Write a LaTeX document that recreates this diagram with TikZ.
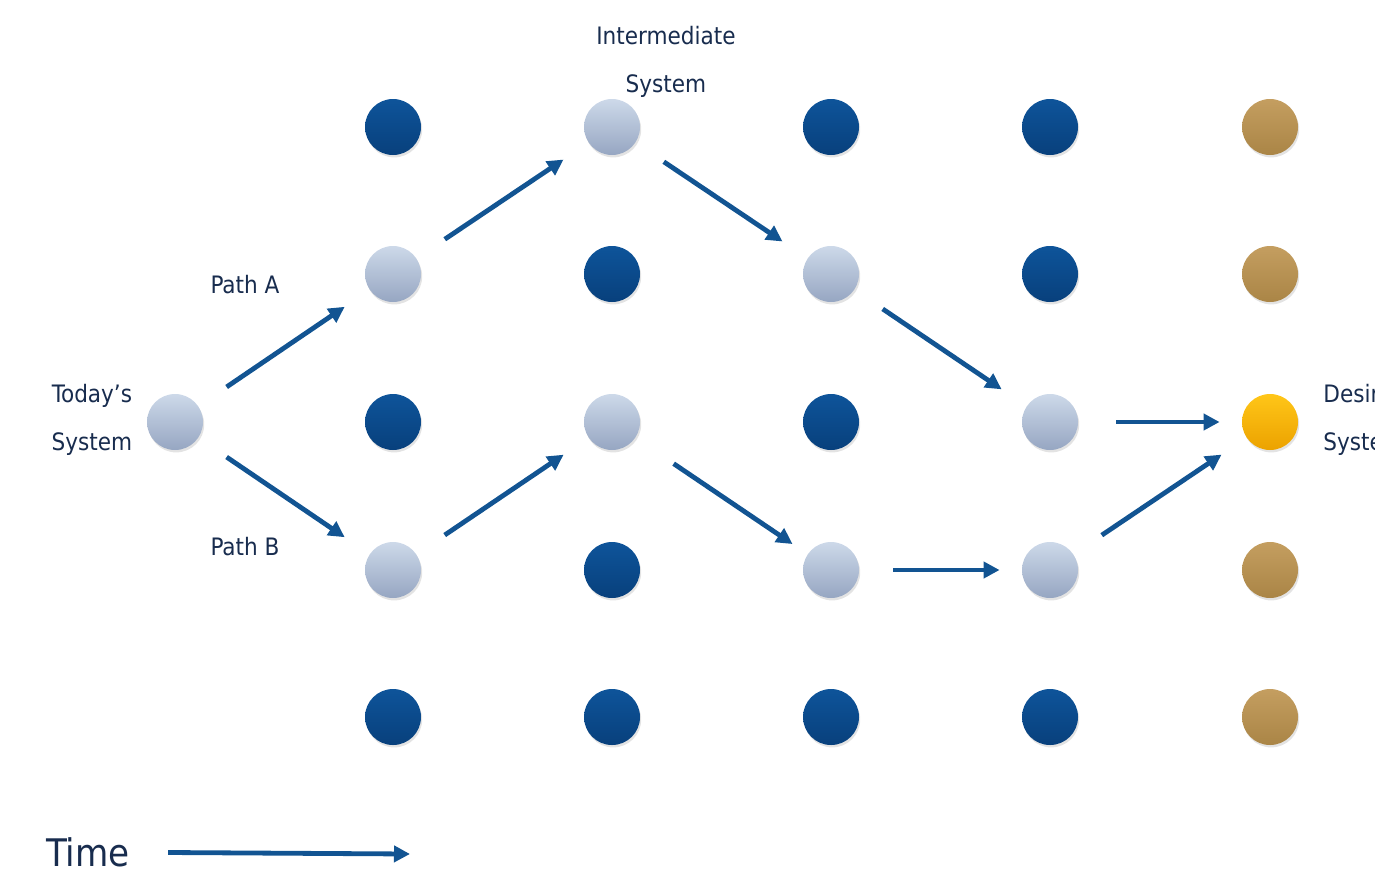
\documentclass[tikz,border=0pt]{standalone}
\usepackage{fontspec}
\setmainfont{DejaVu Sans Condensed}
\usetikzlibrary{arrows.meta,shadows}
\definecolor{textnavy}{RGB}{24,44,78}
\definecolor{arrowblue}{RGB}{18,84,146}
\definecolor{darktop}{RGB}{14,84,154}
\definecolor{darkbot}{RGB}{8,64,124}
\definecolor{lighttop}{RGB}{205,217,233}
\definecolor{lightbot}{RGB}{150,166,194}
\definecolor{browntop}{RGB}{196,158,96}
\definecolor{brownbot}{RGB}{170,133,70}
\definecolor{goldtop}{RGB}{255,198,24}
\definecolor{goldbot}{RGB}{236,162,0}
\begin{document}
\begin{tikzpicture}[x=0.5pt,y=-0.5pt]
\tikzstyle{dot}=[circle,inner sep=0,minimum size=28pt,drop shadow={opacity=0.22,shadow xshift=0.6pt,shadow yshift=-1.2pt}]
\tikzstyle{label}=[text=textnavy,font=\fontsize{12}{24}\selectfont,inner sep=0]
\tikzset{
	dark dot/.style={dot,top color=darktop,bottom color=darkbot},
	light dot/.style={dot,top color=lighttop,bottom color=lightbot},
	brown dot/.style={dot,top color=browntop,bottom color=brownbot},
	gold dot/.style={dot,top color=goldtop,bottom color=goldbot},
	flow/.style={draw=arrowblue,line width=2.4pt,-{Triangle[length=8pt,width=8pt]},shorten <=17pt,shorten >=15pt}
}
\useasboundingbox (0,0) rectangle (1375,873);
\clip (0,0) rectangle (1375,873);
% start
\node[light dot] (today) at (175,422) {};
% column 1
\node[dark dot] (a1) at (393,127) {};
\node[light dot] (a2) at (393,274) {};
\node[dark dot] (a3) at (393,422) {};
\node[light dot] (a4) at (393,570) {};
\node[dark dot] (a5) at (393,717) {};
% column 2
\node[light dot] (b1) at (612,127) {};
\node[dark dot] (b2) at (612,274) {};
\node[light dot] (b3) at (612,422) {};
\node[dark dot] (b4) at (612,570) {};
\node[dark dot] (b5) at (612,717) {};
% column 3
\node[dark dot] (c1) at (831,127) {};
\node[light dot] (c2) at (831,274) {};
\node[dark dot] (c3) at (831,422) {};
\node[light dot] (c4) at (831,570) {};
\node[dark dot] (c5) at (831,717) {};
% column 4
\node[dark dot] (d1) at (1050,127) {};
\node[dark dot] (d2) at (1050,274) {};
\node[light dot] (d3) at (1050,422) {};
\node[light dot] (d4) at (1050,570) {};
\node[dark dot] (d5) at (1050,717) {};
% goal column
\node[brown dot] (e1) at (1270,127) {};
\node[brown dot] (e2) at (1270,274) {};
\node[gold dot] (desired) at (1270,422) {};
\node[brown dot] (e4) at (1270,570) {};
\node[brown dot] (e5) at (1270,717) {};
% labels
\node[label,align=center] (todaytext) at (92,420) {Today’s\\System};
\node[label,align=center] (midtext) at (666,62) {Intermediate\\System};
\node[label,align=left,anchor=west] (goaltext) at (1323,420) {Desired\\System};
\node[label] (patha) at (245,285) {Path A};
\node[label] (pathb) at (245,547) {Path B};
\node[label,font=\fontsize{19}{22}\selectfont] (time) at (88,852) {Time};
\coordinate (timeend) at (410,854);
% path A
\draw[flow] (today) -- (a2);
\draw[flow] (a2) -- (b1);
\draw[flow] (b1) -- (c2);
\draw[flow] (c2) -- (d3);
\draw[flow,shorten <=19pt,shorten >=11pt] (d3) -- (desired);
% path B
\draw[flow] (today) -- (a4);
\draw[flow] (a4) -- (b3);
\draw[flow,shorten <=23pt,shorten >=9pt] (b3) -- (c4);
\draw[flow,shorten <=17pt,shorten >=11pt] (c4) -- (d4);
\draw[flow] (d4) -- (desired);
% time
\draw[flow,shorten <=19pt,shorten >=0pt] (time) -- (timeend);
\end{tikzpicture}
\end{document}
